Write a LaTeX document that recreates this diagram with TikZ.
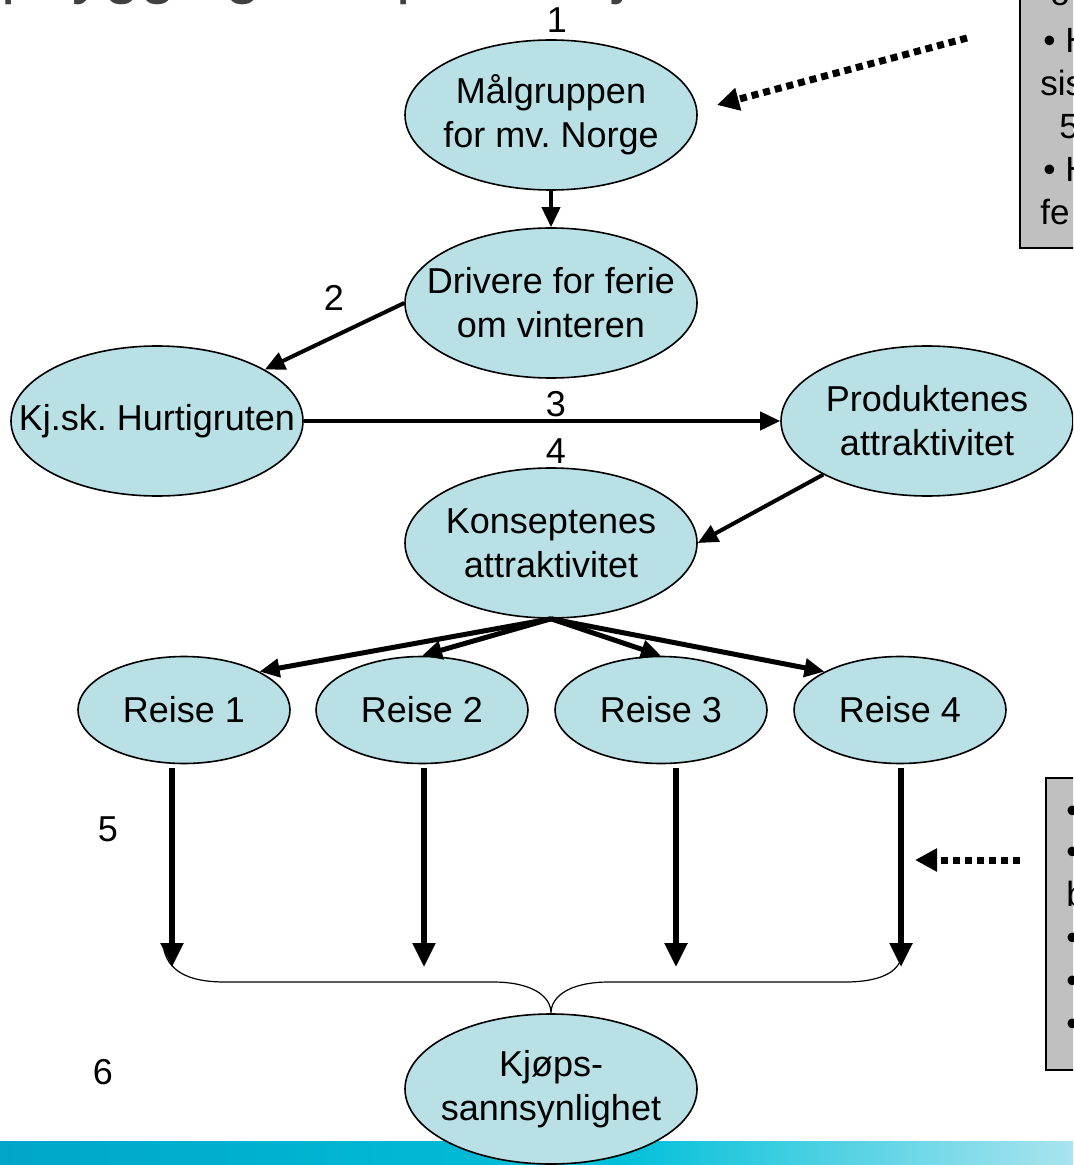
\documentclass[tikz,border=0pt]{standalone}
\usepackage{fontspec}
\setmainfont{Liberation Sans}
\frenchspacing
\usetikzlibrary{arrows.meta,shapes.geometric}
\definecolor{bobble}{RGB}{185,224,228}
\definecolor{notebox}{RGB}{192,192,192}
\definecolor{titlegray}{RGB}{64,64,64}
\definecolor{barA}{RGB}{0,166,202}
\definecolor{barB}{RGB}{0,192,217}
\definecolor{barC}{RGB}{170,228,238}
\tikzset{
  bigell/.style={ellipse, draw, line width=0.8pt, fill=bobble, inner sep=0pt,
    minimum width=146pt, minimum height=75pt},
  reiseell/.style={bigell, minimum width=106pt, minimum height=53.5pt},
  txt/.style={font=\fontsize{18}{22}\selectfont, align=center, inner sep=0pt},
  num/.style={font=\fontsize{18}{22}\selectfont, inner sep=0pt},
  notetxt/.style={font=\fontsize{17.5}{20}\selectfont, anchor=base west, inner sep=0pt},
  pil/.style={line width=2pt, -{Triangle[length=10pt,width=9pt]}},
  fanpil/.style={line width=2.5pt, -{Triangle[length=10pt,width=9pt]}},
  downpil/.style={line width=2.75pt, -{Triangle[length=12pt,width=11pt]}},
  dotpil/.style={line width=3.5pt, dash pattern=on 3.5pt off 2.5pt,
    -{Triangle[length=11pt,width=11pt]}}
}
\begin{document}
\begin{tikzpicture}[x=0.5pt, y=-0.5pt]
  \useasboundingbox (0,0) rectangle (1073,1165);
  \clip (0,0) rectangle (1073,1165);

  % title, cut at the top
  \node[anchor=base west, font=\fontsize{32}{36}\selectfont, text=titlegray, inner sep=0pt]
    (titel) at (-84,-8) {Oppbygging av spørreskjema};

  % bar at the bottom
  \shade[left color=barA, right color=barB] (0,1141) rectangle (620,1165);
  \shade[left color=barB, right color=barC] (620,1141) rectangle (1073,1165);

  % note boxes, cut at the right
  \draw[fill=notebox, line width=0.6pt] (1020,-10) rectangle (1090,248);
  \node[notetxt] (ta) at (1050,6) {o};
  \node[notetxt] (tb) at (1043,53) {• H};
  \node[notetxt] (tc) at (1040,96) {sis};
  \node[notetxt] (td) at (1059,139) {5};
  \node[notetxt] (te) at (1043,182) {• H};
  \node[notetxt] (tf) at (1040,225) {fe};

  \draw[fill=notebox, line width=0.6pt] (1046,778) rectangle (1090,1070);
  \foreach \y/\t [count=\i] in {822/•, 863/•, 906/b, 949/•, 992/•, 1035/•}
    \node[notetxt] (u\i) at (1066,\y) {\t};

  % ellipses
  \node[bigell, label={[txt]center:{Målgruppen\\for mv. Norge}}] (mg) at (551,115) {};
  \node[bigell, label={[txt]center:{Drivere for ferie\\om vinteren}}] (dr) at (551,303) {};
  \node[bigell, label={[txt]center:{Kj.sk. Hurtigruten}}] (kj) at (157,421) {};
  \node[bigell, label={[txt]center:{Produktenes\\attraktivitet}}] (pr) at (927,421) {};
  \node[bigell, label={[txt]center:{Konseptenes\\attraktivitet}}] (ko) at (551,543) {};
  \foreach \x [count=\i] in {184,422,661,900}
    \node[reiseell, label={[txt]center:{Reise \i}}] (r\i) at (\x,710) {};
  \node[bigell, label={[txt]center:{Kjøps-\\sannsynlighet}}] (kp) at (551,1089) {};

  % numbers
  \node[num] (n1) at (557,20) {1};
  \node[num] (n2) at (334,298) {2};
  \node[num] (n3) at (556,404) {3};
  \node[num] (n4) at (556,451) {4};
  \node[num] (n5) at (108,829) {5};
  \node[num] (n6) at (103,1072) {6};

  % arrows
  \draw[pil] (mg.south) -- (dr.north);
  \draw[pil] (dr.west) -- (kj);
  \draw[pil] (kj.east) -- (pr.west);
  \draw[pil] (pr.south west) -- (ko.east);
  \draw[fanpil] (ko.south) -- (r1.north east);
  \draw[fanpil] (ko.south) -- (r2.north);
  \draw[fanpil] (ko.south) -- (r3.north);
  \draw[fanpil] (ko.south) -- (r4.north west);
  \foreach \x [count=\i] in {172,424,676,901} {
    \coordinate (fra\i) at (\x,768);
    \coordinate (til\i) at (\x,967);
    \draw[downpil] (fra\i) -- (til\i);
  }

  % brace
  \draw[line width=0.6pt] (164,950) .. controls (170,975) and (195,982) .. (225,982)
    -- (493,982) .. controls (530,982) and (551,995) .. (kp.north)
    .. controls (551,995) and (572,982) .. (609,982) -- (845,982)
    .. controls (880,982) and (898,972) .. (901,958);

  % dotted arrows from the notes
  \coordinate (d1a) at (967,38);
  \coordinate (d1b) at (717,105);
  \draw[dotpil] (d1a) -- (d1b);
  \coordinate (d2a) at (1020,860);
  \coordinate (d2b) at (915,860);
  \draw[dotpil] (d2a) -- (d2b);
\end{tikzpicture}
\end{document}
